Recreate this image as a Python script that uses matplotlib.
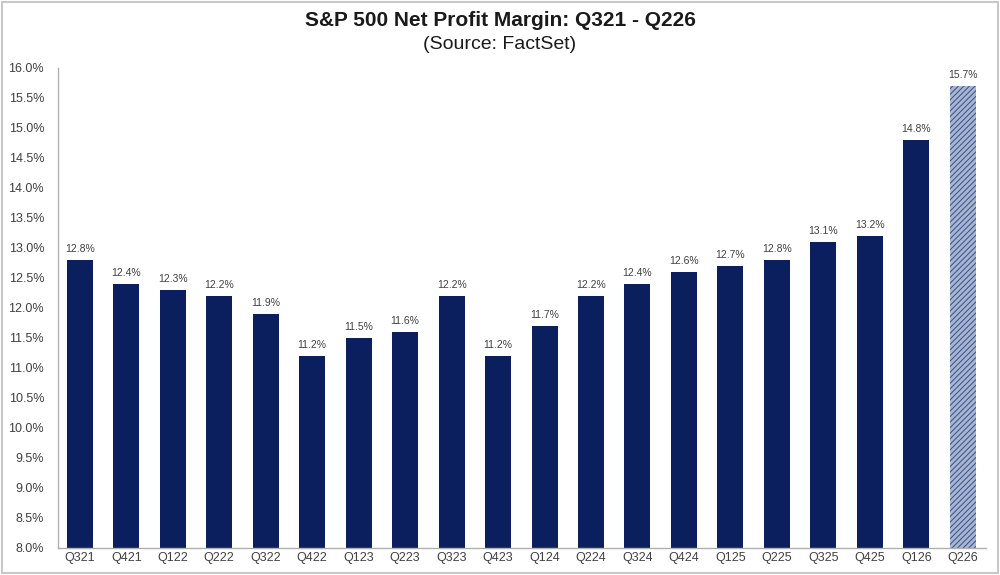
import matplotlib
matplotlib.use('Agg')
import matplotlib.pyplot as plt
from matplotlib.ticker import FuncFormatter
from matplotlib.patches import Rectangle

quarters = ['Q321', 'Q421', 'Q122', 'Q222', 'Q322', 'Q422', 'Q123', 'Q223', 'Q323', 'Q423',
            'Q124', 'Q224', 'Q324', 'Q424', 'Q125', 'Q225', 'Q325', 'Q425', 'Q126', 'Q226']
margins = [12.8, 12.4, 12.3, 12.2, 11.9, 11.2, 11.5, 11.6, 12.2, 11.2,
           11.7, 12.2, 12.4, 12.6, 12.7, 12.8, 13.1, 13.2, 14.8, 15.7]
n_actual = 19  # last one is an estimate (hatched)

navy = '#0b1f5e'
plt.rcParams['font.family'] = ['Liberation Sans', 'DejaVu Sans']

fig = plt.figure(figsize=(10, 5.75), dpi=100)
ax = fig.add_axes([0.058, 0.047, 0.928, 0.835])

x = list(range(len(quarters)))
ax.bar(x[:n_actual], margins[:n_actual], width=0.56, color=navy)
plt.rcParams['hatch.linewidth'] = 0.8
ax.bar(x[n_actual:], margins[n_actual:], width=0.56, color='#aab6d0',
       edgecolor='#3d5a96', hatch='//////', linewidth=0)

for xi, v in zip(x, margins):
    ax.text(xi, v + 0.1, '%.1f%%' % v, ha='center', va='bottom', fontsize=7.5, color='#404040')

ax.set_ylim(8, 16)
ax.set_xlim(-0.47, 19.5)
ax.set_yticks([8 + 0.5 * i for i in range(17)])
ax.yaxis.set_major_formatter(FuncFormatter(lambda v, p: '%.1f%%' % v))
ax.set_xticks(x)
ax.set_xticklabels(quarters)
ax.tick_params(axis='both', length=0, labelsize=9, colors='#404040')
ax.tick_params(axis='x', pad=3)
ax.tick_params(axis='y', pad=10)
for s in ['top', 'right']:
    ax.spines[s].set_visible(False)
for s in ['left', 'bottom']:
    ax.spines[s].set_color('#b0b0b0')
    ax.spines[s].set_linewidth(1)

fig.text(0.5, 0.964, 'S&P 500 Net Profit Margin: Q321 - Q226', ha='center', va='center',
         fontsize=15, fontweight='bold', color='#1a1a1a')
fig.text(0.5, 0.922, '(Source: FactSet)', ha='center', va='center', fontsize=14, color='#1a1a1a')

fig.patches.append(Rectangle((0.002, 0.004), 0.996, 0.992, transform=fig.transFigure,
                             fill=False, edgecolor='#c8c8c8', linewidth=1.5))

fig.savefig('out.png', dpi=100)
